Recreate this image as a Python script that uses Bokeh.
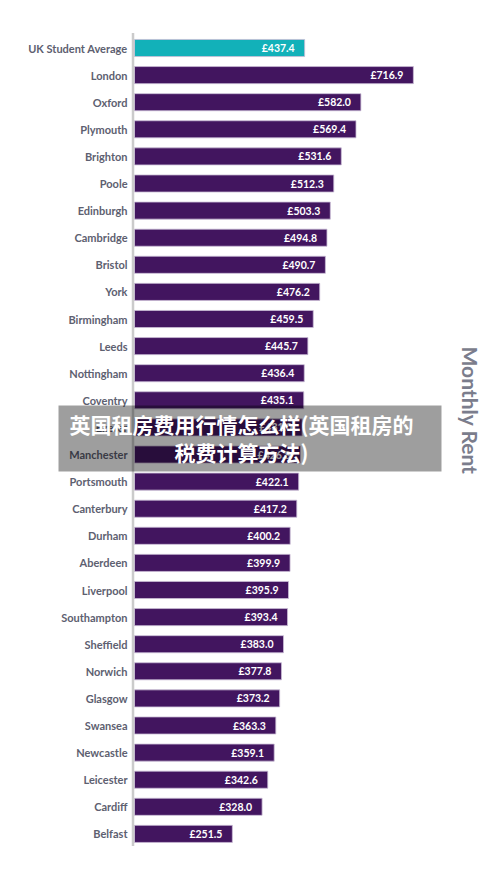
import numpy as np
from bokeh.plotting import figure
from bokeh.models import ColumnDataSource, Range1d, BoxAnnotation, Label
from bokeh.core.properties import value
from bokeh.embed import file_html
from bokeh.resources import INLINE

# ---- data ----
cities = ["UK Student Average", "London", "Oxford", "Plymouth", "Brighton", "Poole",
          "Edinburgh", "Cambridge", "Bristol", "York", "Birmingham", "Leeds",
          "Nottingham", "Coventry", "Exeter", "Manchester", "Portsmouth", "Canterbury",
          "Durham", "Aberdeen", "Liverpool", "Southampton", "Sheffield", "Norwich",
          "Glasgow", "Swansea", "Newcastle", "Leicester", "Cardiff", "Belfast"]
rents = [437.4, 716.9, 582.0, 569.4, 531.6, 512.3,
         503.3, 494.8, 490.7, 476.2, 459.5, 445.7,
         436.4, 435.1, 431.0, 426.8, 422.1, 417.2,
         400.2, 399.9, 395.9, 393.4, 383.0, 377.8,
         373.2, 363.3, 359.1, 342.6, 328.0, 251.5]
axis_title = "Monthly Rent"
overlay_lines = ["英国租房费用行情怎么样(英国租房的", "税费计算方法)"]

# ---- layout helpers (page pixels -> data) ----
W, H = 496, 873
ORIG_X, ORIG_Y = 0, 0
ZERO_PX = 134.0      # page x of £0
SX = 0.389           # px per £
TOP_ROW_PY = 47.5    # page y of first row
ROW_PX = 27.1        # px per row
n = len(cities)

def dx(px):
    return (px - ZERO_PX) / SX

def dy(py):
    return (n - 1) - (py - TOP_ROW_PY) / ROW_PX

ypos = list(np.arange(n - 1, -1, -1))
colors = ["#12b1b9"] + ["#42155f"] * (n - 1)
labels = ["£%.1f" % v for v in rents]

src = ColumnDataSource(dict(city=cities, rent=rents, y=ypos, color=colors, label=labels))

p = figure(width=W, height=H, output_backend="svg", toolbar_location=None,
           x_range=Range1d(dx(ORIG_X), dx(ORIG_X + W)),
           y_range=Range1d(dy(ORIG_Y + H), dy(ORIG_Y)),
           x_axis_location=None, y_axis_location=None,
           min_border=0, min_border_left=0, min_border_right=0,
           min_border_top=0, min_border_bottom=0)
p.outline_line_color = None
p.xgrid.visible = False
p.ygrid.visible = False
p.background_fill_color = "white"

# bars
p.hbar(y="y", left=0, right="rent", height=0.63, fill_color="color",
       line_color="#c9bdd6", line_width=0.8, source=src)

# axis line
p.segment(x0=[dx(132.5)], x1=[dx(132.5)], y0=[-0.45], y1=[n - 0.45],
          line_color="#cbcbcb", line_width=2.5)

# category labels
p.text(x=0, y="y", text="city", source=src, x_offset=-7,
       text_align="right", text_baseline="middle",
       text_font=value("Lato"), text_font_style="bold",
       text_font_size="11px", text_color="#5d6070")

# value labels
p.text(x="rent", y="y", text="label", source=src, x_offset=-10,
       text_align="right", text_baseline="middle",
       text_font=value("Lato"), text_font_style="bold",
       text_font_size="10.5px", text_color="white")

# right-side title
p.add_layout(Label(x=dx(470), y=dy(410), text=axis_title, angle=-np.pi / 2,
                   text_align="center", text_baseline="middle",
                   text_font="Lato", text_font_size="21px", text_font_style="bold",
                   text_color="#7b7d8c"))

# overlay banner
p.add_layout(BoxAnnotation(left=dx(58), right=dx(441), top=dy(405), bottom=dy(471),
                           fill_color="black", fill_alpha=0.38, line_color=None))
for i, t in enumerate(overlay_lines):
    p.add_layout(Label(x=dx(241), y=dy(423 + 28 * i), text=t,
                       text_align="center", text_baseline="middle",
                       text_font="Noto Sans CJK SC", text_font_size="21px",
                       text_font_style="bold", text_color="white"))

open("out.html", "w").write(file_html(p, INLINE))
